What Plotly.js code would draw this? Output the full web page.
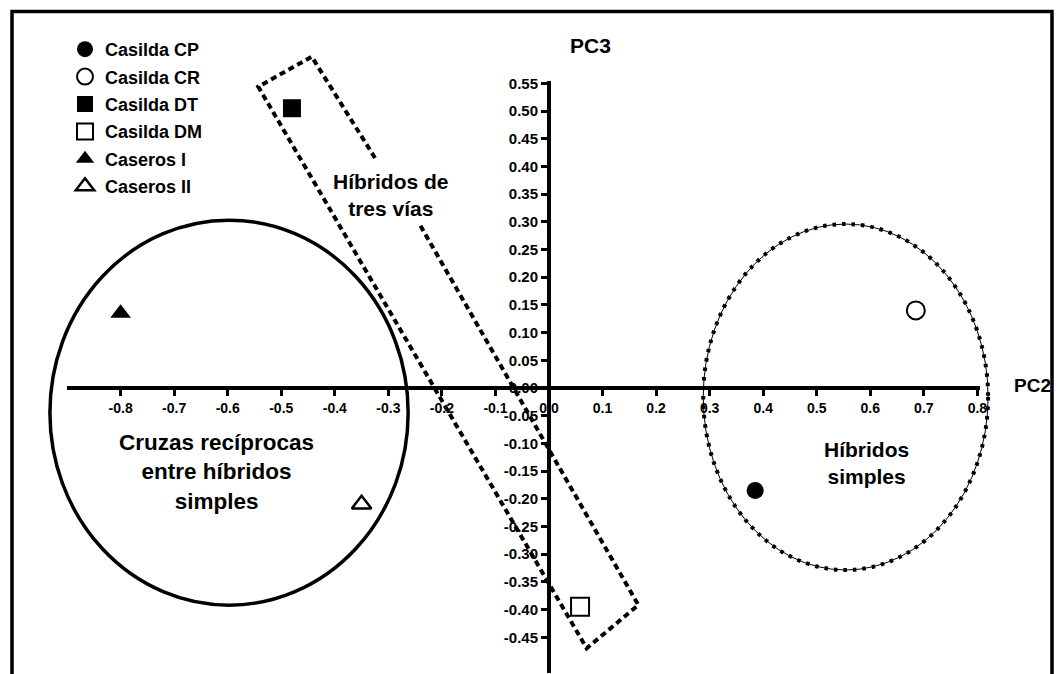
<!DOCTYPE html>
<html><head><meta charset="utf-8">
<script src="https://cdn.plot.ly/plotly-3.0.1.min.js"></script>
<style>html,body{margin:0;padding:0;background:#fff}#chart{width:1064px;height:674px}</style>
</head><body><div id="chart"></div>
<script>
// ---- data ----
const seriesNames = ['Casilda CP', 'Casilda CR', 'Casilda DT', 'Casilda DM', 'Caseros I', 'Caseros II'];
const pc2Values = [0.385, 0.685, -0.48, 0.058, -0.80, -0.35];
const pc3Values = [-0.185, 0.14, 0.505, -0.395, 0.135, -0.21];

const xTickVals = [-0.8, -0.7, -0.6, -0.5, -0.4, -0.3, -0.2, -0.1, 0.0, 0.1, 0.2, 0.3, 0.4, 0.5, 0.6, 0.7, 0.8];
const xTickText = ['-0.8', '-0.7', '-0.6', '-0.5', '-0.4', '-0.3', '-0.2', '-0.1', '0.0', '0.1', '0.2', '0.3', '0.4', '0.5', '0.6', '0.7', '0.8'];
const yTickVals = [-0.45, -0.40, -0.35, -0.30, -0.25, -0.20, -0.15, -0.10, -0.05, 0.00, 0.05, 0.10, 0.15, 0.20, 0.25, 0.30, 0.35, 0.40, 0.45, 0.50, 0.55];
const yTickText = ['-0.45', '-0.40', '-0.35', '-0.30', '-0.25', '-0.20', '-0.15', '-0.10', '-0.05', '0.00', '0.05', '0.10', '0.15', '0.20', '0.25', '0.30', '0.35', '0.40', '0.45', '0.50', '0.55'];
const xAxisTitle = 'PC2';
const yAxisTitle = 'PC3';

const groupLabels = ['Cruzas recíprocas<br>entre híbridos<br>simples', 'Híbridos<br>simples', 'Híbridos de<br>tres vías'];
const groupLabelX = [-0.6205, 0.5933, -0.295];
const groupLabelY = [-0.151, -0.1345, 0.3475];

// group outlines (PC2, PC3 units)
const reciprocalCircleX = [-0.932, -0.263];
const reciprocalCircleY = [-0.392, 0.303];
const simpleEllipseX = [0.288, 0.820];
const simpleEllipseY = [-0.3285, 0.296];
const threeWayBoxX = [-0.3249, -0.4431, -0.5429, 0.0704, 0.1668, -0.2409];
const threeWayBoxY = [0.4152, 0.598, 0.5439, -0.4699, -0.3917, 0.2942];

// ---- styles ----
const FONT = 'Liberation Sans, Arial, Helvetica, sans-serif';
const markerStyles = [
  {symbol: 'circle', size: 17, color: '#000', line: {color: '#000', width: 0}},
  {symbol: 'circle', size: 18, color: '#fff', line: {color: '#000', width: 2}},
  {symbol: 'square', size: 18, color: '#000', line: {color: '#000', width: 0}},
  {symbol: 'square', size: 18, color: '#fff', line: {color: '#000', width: 2}},
  {symbol: 'triangle-up', size: 18, color: '#000', line: {color: '#000', width: 0}},
  {symbol: 'triangle-up', size: 17, color: '#fff', line: {color: '#000', width: 2.5}}
];

const traces = seriesNames.map((name, i) => ({
  type: 'scatter', mode: 'markers', name: name,
  x: [pc2Values[i]], y: [pc3Values[i]],
  xaxis: 'x', yaxis: 'y',
  marker: markerStyles[i],
  legendgroup: 'g' + i,
  hoverinfo: 'skip', cliponaxis: false
}));
// carrier trace for the decorative crossing axes
traces.push({type: 'scatter', mode: 'markers', x: [], y: [], xaxis: 'x2', yaxis: 'y2', showlegend: false, hoverinfo: 'skip'});

// pixel geometry
const W = 1064, H = 674;
const ox = 549, oy = 388;          // origin in px
const sx = 535.5, sy = 554;        // px per unit
const xr = [-ox / sx, (W - ox) / sx];
const yr = [(oy - H) / sy, oy / sy];
const x2r = [-0.9, 0.805];
const y2r = [-0.515, 0.555];
const px = v => (ox + v * sx) / W;
const py = v => (H - (oy - v * sy)) / H;

function pathFrom(xs, ys) {
  return xs.map((x, i) => (i ? 'L' : 'M') + x + ',' + ys[i]).join(' ');
}

const shapes = [
  {type: 'rect', xref: 'paper', yref: 'paper', x0: 12 / W, x1: 1052 / W, y0: -0.05, y1: (H - 11.5) / H,
   line: {color: '#000', width: 3.5}, fillcolor: 'rgba(0,0,0,0)', layer: 'above'},
  {type: 'circle', xref: 'x', yref: 'y', x0: reciprocalCircleX[0], x1: reciprocalCircleX[1], y0: reciprocalCircleY[0], y1: reciprocalCircleY[1],
   line: {color: '#000', width: 3.5}},
  {type: 'circle', xref: 'x', yref: 'y', x0: simpleEllipseX[0], x1: simpleEllipseX[1], y0: simpleEllipseY[0], y1: simpleEllipseY[1],
   line: {color: '#000', width: 1}},
  {type: 'circle', xref: 'x', yref: 'y', x0: simpleEllipseX[0], x1: simpleEllipseX[1], y0: simpleEllipseY[0], y1: simpleEllipseY[1],
   line: {color: '#000', width: 4, dash: '3.5px,6px'}},
  {type: 'path', xref: 'x', yref: 'y', path: pathFrom(threeWayBoxX, threeWayBoxY),
   line: {color: '#000', width: 4, dash: '6px,4px'}}
];

const labelSizes = [22.5, 21, 21];
const annotations = groupLabels.map((t, i) => ({
  text: t, x: groupLabelX[i], y: groupLabelY[i], xref: 'x', yref: 'y', showarrow: false,
  xanchor: 'center', yanchor: 'middle', align: 'center',
  font: {family: FONT, size: labelSizes[i], color: '#000', weight: 'bold'}
}));
annotations.push({text: yAxisTitle, x: 0.0775, y: 0.619, xref: 'x', yref: 'y', showarrow: false,
  xanchor: 'center', yanchor: 'middle', font: {family: FONT, size: 21, color: '#000', weight: 'bold'}});
annotations.push({text: xAxisTitle, x: 0.903, y: 0.005, xref: 'x', yref: 'y', showarrow: false,
  xanchor: 'center', yanchor: 'middle', font: {family: FONT, size: 19, color: '#000', weight: 'bold'}});

const tickFontX = {family: FONT, size: 14, color: '#000', weight: 'bold'};
const tickFontY = {family: FONT, size: 15, color: '#000', weight: 'bold'};

const layout = {
  width: W, height: H,
  margin: {l: 0, r: 0, t: 0, b: 0, pad: 0},
  paper_bgcolor: '#fff', plot_bgcolor: 'rgba(0,0,0,0)',
  font: {family: FONT, color: '#000'},
  showlegend: true,
  legend: {x: 65 / W, y: (H - 31) / H, xanchor: 'left', yanchor: 'top',
    font: {family: FONT, size: 18, color: '#000', weight: 'bold'},
    bgcolor: 'rgba(0,0,0,0)', borderwidth: 0, tracegroupgap: 1, itemclick: false, itemdoubleclick: false},
  xaxis: {domain: [0, 1], range: xr, visible: false, fixedrange: true},
  yaxis: {domain: [0, 1], range: yr, visible: false, fixedrange: true},
  xaxis2: {domain: [px(x2r[0]), px(x2r[1])], range: x2r, anchor: 'free', position: (H - oy) / H,
    showline: true, linewidth: 4, linecolor: '#000', ticks: 'outside', ticklen: 6, tickwidth: 3, tickcolor: '#000',
    tickmode: 'array', tickvals: xTickVals, ticktext: xTickText, tickfont: tickFontX,
    showgrid: false, zeroline: false, fixedrange: true},
  yaxis2: {domain: [py(y2r[0]), py(y2r[1])], range: y2r, anchor: 'free', position: ox / W,
    showline: true, linewidth: 4, linecolor: '#000', ticks: 'outside', ticklen: 6, tickwidth: 3, tickcolor: '#000',
    tickmode: 'array', tickvals: yTickVals, ticktext: yTickText, tickfont: tickFontY,
    showgrid: false, zeroline: false, fixedrange: true},
  shapes: shapes,
  annotations: annotations,
  hovermode: false
};

Plotly.newPlot('chart', traces, layout, {staticPlot: true, displayModeBar: false});
</script>
</body></html>
